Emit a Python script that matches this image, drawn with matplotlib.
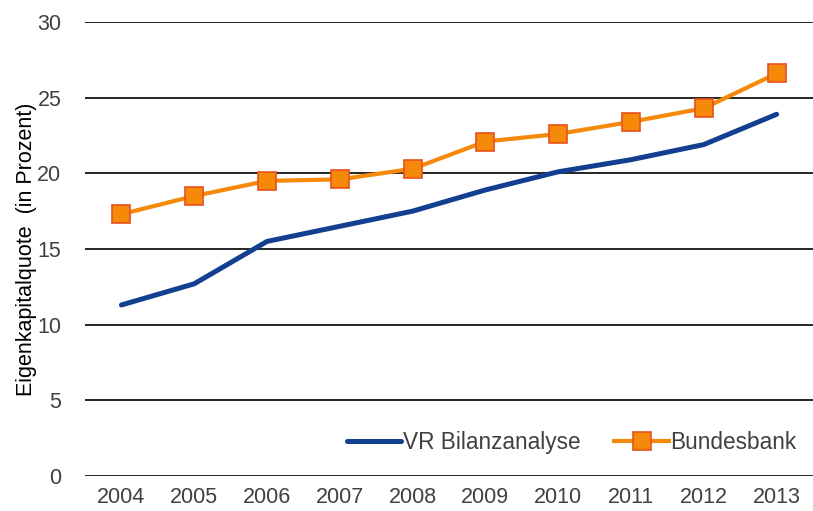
import matplotlib
matplotlib.use("Agg")
import matplotlib.pyplot as plt

plt.rcParams['font.family'] = ['Liberation Sans', 'DejaVu Sans']

jahre = ['2004', '2005', '2006', '2007', '2008', '2009', '2010', '2011', '2012', '2013']
vr_bilanz = [11.3, 12.7, 15.5, 16.5, 17.5, 18.9, 20.1, 20.9, 21.9, 23.9]
bundesbank = [17.3, 18.5, 19.5, 19.6, 20.3, 22.1, 22.6, 23.4, 24.3, 26.6]

txt = '#404040'
fig = plt.figure(figsize=(8.13, 5.11), dpi=100)
ax = fig.add_axes([0.1046, 0.0685, 0.8954, 0.8885])
x = range(len(jahre))
ax.plot(x, vr_bilanz, color='#123f8f', linewidth=3.6, solid_capstyle='round',
        label='VR Bilanzanalyse', zorder=3)
ax.plot(x, bundesbank, color='#f5890a', linewidth=3.0, marker='s', markersize=12.5,
        markerfacecolor='#f5890a', markeredgecolor='#e8501e', markeredgewidth=1.2,
        label='Bundesbank', zorder=4)

ax.set_xlim(-0.5, 9.5)
ax.set_ylim(0, 30)
ax.set_yticks([0, 5, 10, 15, 20, 25, 30])
ax.set_xticks(list(x))
ax.set_xticklabels(jahre)
ax.yaxis.grid(True, color='black', linewidth=1.2)
ax.set_axisbelow(True)
for s in ax.spines.values():
    s.set_visible(False)
ax.tick_params(axis='both', length=0, labelsize=15.5, colors=txt)
ax.tick_params(axis='y', pad=17)
ax.tick_params(axis='x', pad=8)
ax.set_ylabel('Eigenkapitalquote  (in Prozent)', fontsize=15.5, color='black', labelpad=0)
ax.legend(loc='center right', bbox_to_anchor=(0.99, 0.073), ncol=2, frameon=False,
          fontsize=16.3, labelcolor=txt, handlelength=2.4, handletextpad=0.08,
          columnspacing=1.5, borderaxespad=0)
fig.savefig('out.png', dpi=100)
